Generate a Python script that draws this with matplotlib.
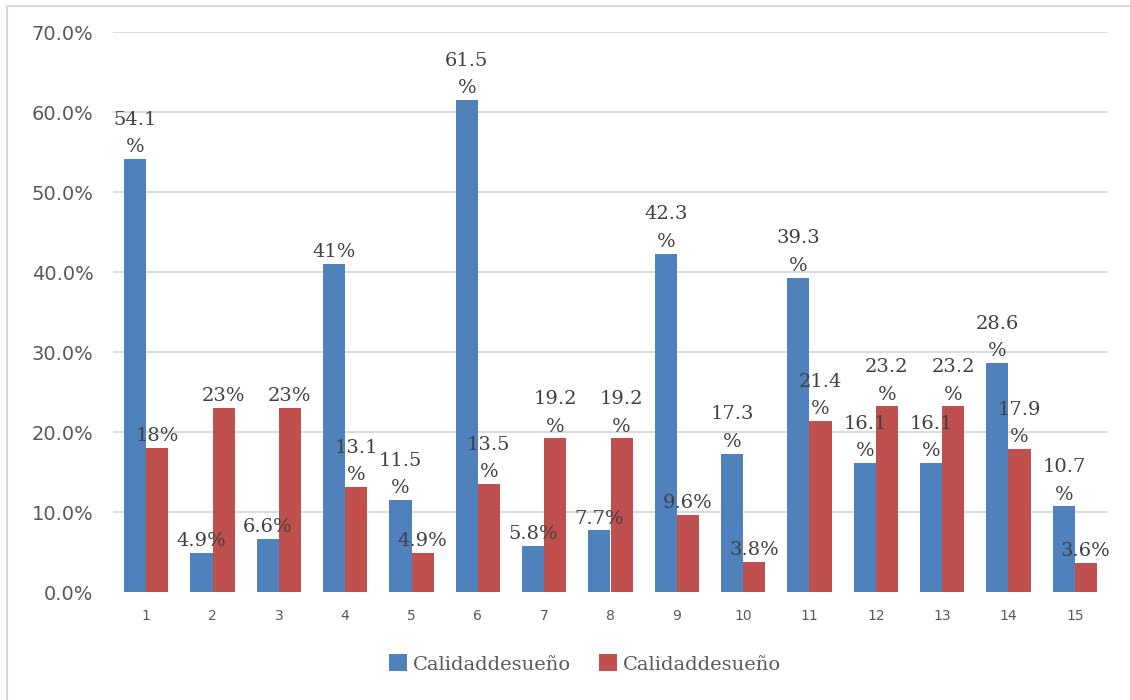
import matplotlib
matplotlib.use("Agg")
import matplotlib.pyplot as plt
from matplotlib.lines import Line2D
import numpy as np

grupos = [str(i) for i in range(1, 16)]
serie_a = [54.1, 4.9, 6.6, 41, 11.5, 61.5, 5.8, 7.7, 42.3, 17.3, 39.3, 16.1, 16.1, 28.6, 10.7]
serie_b = [18, 23, 23, 13.1, 4.9, 13.5, 19.2, 19.2, 9.6, 3.8, 21.4, 23.2, 23.2, 17.9, 3.6]
nombres = ["Calidaddesueño", "Calidaddesueño"]
y_ticks = [0, 10, 20, 30, 40, 50, 60, 70]

azul = "#4F81BD"
rojo = "#C0504D"

def etiqueta(v):
    # long labels wrap the percent sign onto a second line
    txt = f"{v:g}"
    if len(txt) + 1 > 4:
        return txt + "\n%"
    return txt + "%"

fig = plt.figure(figsize=(11.3, 7), dpi=100)
ax = fig.add_axes([113/1130, 1 - 592/700, (1108 - 113)/1130, 560/700])

x = np.arange(len(grupos))
w = 0.332
b1 = ax.bar(x - w/2, serie_a, w, color=azul, label=nombres[0])
b2 = ax.bar(x + w/2, serie_b, w, color=rojo, label=nombres[1])

for bars, vals in ((b1, serie_a), (b2, serie_b)):
    for r, v in zip(bars, vals):
        ax.annotate(etiqueta(v), (r.get_x() + r.get_width()/2, v),
                    xytext=(0, 2), textcoords="offset points",
                    ha="center", va="bottom", multialignment="center",
                    fontsize=14, family="DejaVu Serif", color="#404040",
                    linespacing=1.68)

ax.set_xlim(-0.5, len(grupos) - 0.5)
ax.set_ylim(0, 70)
ax.set_yticks(y_ticks)
ax.set_yticklabels([f"{t:.1f}%" for t in y_ticks])
ax.set_xticks(x)
ax.set_xticklabels(grupos)
ax.tick_params(axis="y", length=0, pad=14, labelsize=14, labelcolor="#595959")
ax.tick_params(axis="x", length=0, pad=12, labelsize=10, labelcolor="#595959")
for s in ax.spines.values():
    s.set_visible(False)
for t in y_ticks[1:]:
    ax.axhline(t, color="#d9d9d9", lw=1.3, zorder=0)

fig.legend(handles=[b1, b2], labels=nombres, loc="center", bbox_to_anchor=(585/1130, 1 - 664/700),
           ncol=2, frameon=False, prop={"family": "DejaVu Serif", "size": 14},
           handlelength=0.95, handleheight=0.95, handletextpad=0.3, columnspacing=1.4,
           labelcolor="#595959")

# outer chart frame (top and left edges)
fig.add_artist(Line2D([7/1130, 7/1130], [0, 1 - 6/700], color="#d9d9d9", lw=1.5))
fig.add_artist(Line2D([7/1130, 1], [1 - 6/700, 1 - 6/700], color="#d9d9d9", lw=1.5))

fig.savefig("out.png", dpi=100)
